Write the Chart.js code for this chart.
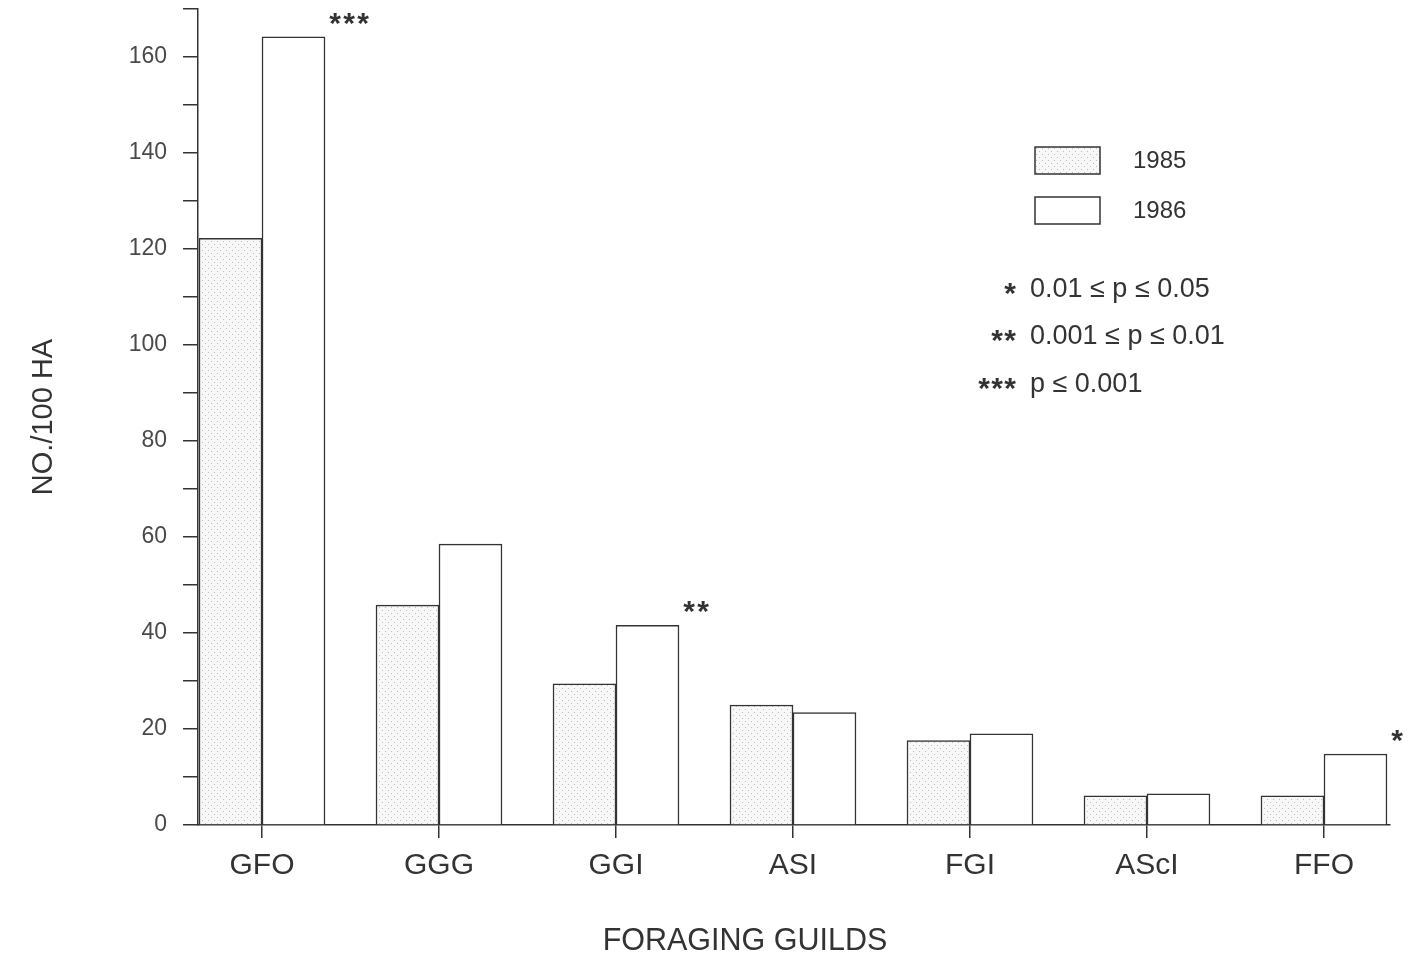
<!DOCTYPE html>
<html><head><meta charset="utf-8">
<script src="https://cdn.jsdelivr.net/npm/chart.js@4/dist/chart.umd.min.js"></script>
<style>html,body{margin:0;padding:0;background:#fff}#wrap{width:1415px;height:961px}</style>
</head><body><div id="wrap"><canvas id="c" width="1415" height="961"></canvas></div>
<script>
const categories = ['GFO','GGG','GGI','ASI','FGI','AScI','FFO'];
const values1985 = [122.2, 45.8, 29.4, 25.0, 17.6, 6.1, 6.1];
const values1986 = [164.2, 58.5, 41.6, 23.4, 19.0, 6.5, 14.8];
const significance = ['***','','**','','','','*'];
const seriesLabels = ['1985','1986'];
const yLabelTicks = [0,20,40,60,80,100,120,140,160];
const pNotes = [['*','0.01 \u2264 p \u2264 0.05'],['**','0.001 \u2264 p \u2264 0.01'],['***','p \u2264 0.001']];
const xTitle = 'FORAGING GUILDS';
const yTitle = 'NO./100 HA';

const FONT = "'Liberation Sans', Arial, sans-serif";
const INK = '#333';

function makePattern(){
  const p = document.createElement('canvas');
  p.width = 6; p.height = 6;
  const g = p.getContext('2d');
  g.fillStyle = '#f8f8f8'; g.fillRect(0,0,6,6);
  g.fillStyle = '#bdbdbd'; g.fillRect(1,1,1,1); g.fillRect(4,4,1,1);
  return document.getElementById('c').getContext('2d').createPattern(p,'repeat');
}
const dotted = makePattern();

function star(ctx, cx, cy){
  ctx.font = "bold 30px " + FONT;
  ctx.textAlign = 'center';
  ctx.textBaseline = 'alphabetic';
  ctx.fillText('*', cx, cy + 19);
}

const overlay = {
  id: 'overlay',
  afterDatasetsDraw(chart){
    const ctx = chart.ctx;
    ctx.save();
    ctx.fillStyle = INK;
    // significance marks
    const meta = chart.getDatasetMeta(1);
    significance.forEach((s,i)=>{
      if(!s) return;
      const bar = meta.data[i];
      const x0 = bar.x + bar.width/2 + 10;
      for(let k=0;k<s.length;k++) star(ctx, x0 + k*14, bar.y - 23);
    });
    // legend boxes
    const boxes = [[dotted, 147], ['#ffffff', 197]];
    ctx.lineWidth = 1.5; ctx.strokeStyle = INK;
    boxes.forEach((b,i)=>{
      ctx.fillStyle = b[0];
      ctx.fillRect(1035, b[1], 65, 27);
      ctx.strokeRect(1035, b[1], 65, 27);
      ctx.fillStyle = INK;
      ctx.font = "24px " + FONT;
      ctx.textAlign = 'left'; ctx.textBaseline = 'middle';
      ctx.fillText(seriesLabels[i], 1133, b[1] + 14);
    });
    // p notes
    const rows = [290, 337, 385];
    pNotes.forEach((n,i)=>{
      for(let k=0;k<n[0].length;k++) star(ctx, 1010 - (n[0].length-1-k)*13, rows[i] - 6);
      ctx.textAlign = 'left'; ctx.textBaseline = 'middle';
      ctx.font = "27px " + FONT;
      ctx.fillText(n[1], 1030, rows[i]);
    });
    // x axis title
    ctx.font = "30.5px " + FONT;
    ctx.textAlign = 'center'; ctx.textBaseline = 'middle';
    ctx.fillText(xTitle, 745, 942);
    ctx.restore();
  }
};

new Chart(document.getElementById('c'), {
  type: 'bar',
  data: {
    datasets: [
      { label: seriesLabels[0], data: values1985.map((v,i)=>({x:i, y:v})),
        backgroundColor: dotted, borderColor: INK, borderWidth: 1.5, barThickness: 63 },
      { label: seriesLabels[1], data: values1986.map((v,i)=>({x:i, y:v})),
        backgroundColor: '#ffffff', borderColor: INK, borderWidth: 1.5, barThickness: 63 }
    ]
  },
  options: {
    responsive: false,
    animation: false,
    layout: { padding: { top: 9, right: 25, bottom: 0, left: 0 } },
    plugins: { legend: { display: false }, tooltip: { enabled: false } },
    scales: {
      x: {
        type: 'linear', min: -0.3616, max: 6.373, offset: false,
        afterBuildTicks: ax => { ax.ticks = categories.map((c,i)=>({value:i})); },
        afterFit: s => { s.height = 136; s.paddingLeft = 0; s.paddingRight = 0; },
        ticks: { callback: v => categories[v] ?? '', font: { size: 30, family: FONT }, color: INK, padding: 10, maxRotation: 0, autoSkip: false },
        grid: { offset: false, drawOnChartArea: false, drawTicks: true, tickLength: 13, color: INK, lineWidth: 1.5 },
        border: { color: INK, width: 1.5 },
        title: { display: false }
      },
      y: {
        min: 0, max: 170,
        afterBuildTicks: ax => { const t=[]; for(let v=0; v<=170; v+=10) t.push({value:v}); ax.ticks = t; },
        afterFit: s => { s.width = 198; s.paddingTop = 0; s.paddingBottom = 0; },
        ticks: { callback: v => yLabelTicks.includes(v) ? String(v) : '', font: { size: 23, family: FONT }, color: '#4a4a4a', padding: 16, autoSkip: false },
        grid: { drawOnChartArea: false, drawTicks: true, tickLength: 15, color: INK, lineWidth: 1.5 },
        border: { color: INK, width: 1.5 },
        title: { display: true, text: yTitle, font: { size: 29, family: FONT }, color: INK, padding: { top: 27, bottom: 0 } }
      }
    }
  },
  plugins: [overlay]
});
</script></body></html>
